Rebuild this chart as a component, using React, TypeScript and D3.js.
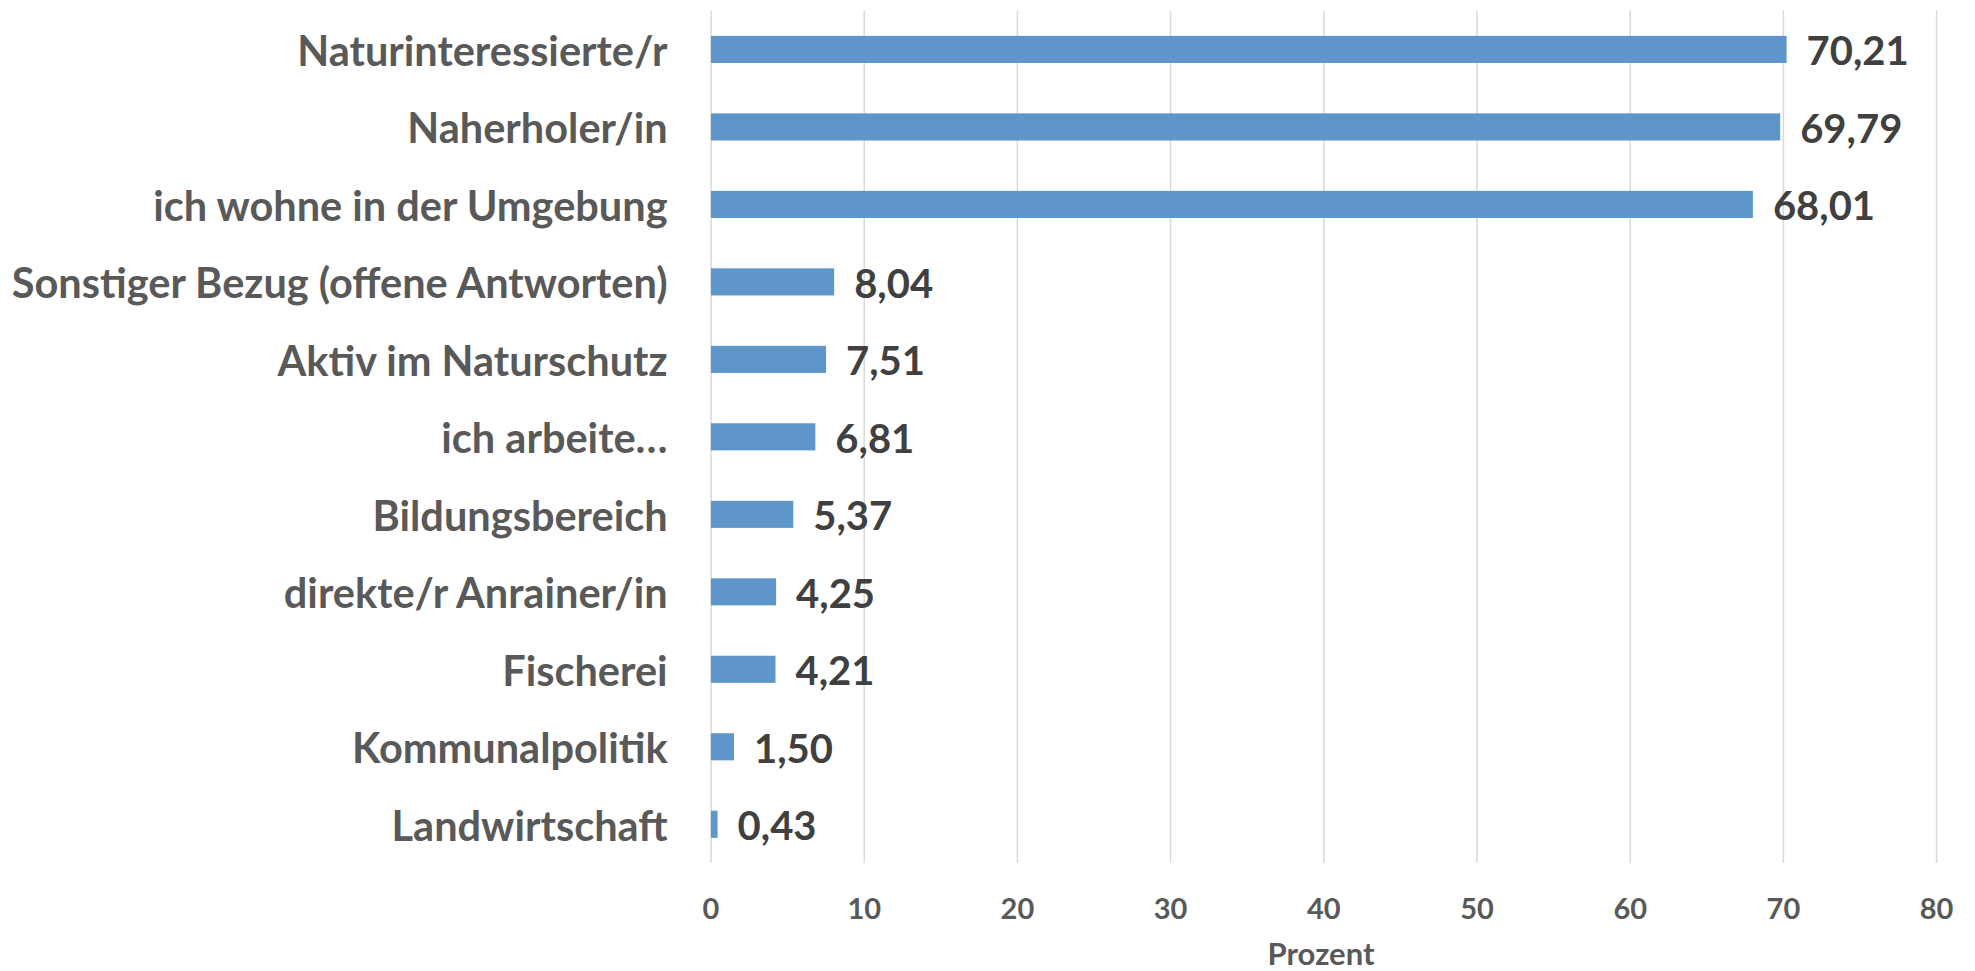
import React from "react";
import * as d3 from "d3";

const categories = [
  "Naturinteressierte/r",
  "Naherholer/in",
  "ich wohne in der Umgebung",
  "Sonstiger Bezug (offene Antworten)",
  "Aktiv im Naturschutz",
  "ich arbeite…",
  "Bildungsbereich",
  "direkte/r Anrainer/in",
  "Fischerei",
  "Kommunalpolitik",
  "Landwirtschaft",
];
const values = [70.21, 69.79, 68.01, 8.04, 7.51, 6.81, 5.37, 4.25, 4.21, 1.5, 0.43];
const xTicks = [0, 10, 20, 30, 40, 50, 60, 70, 80];
const axisTitle = "Prozent";

const W = 1975;
const H = 971;
const FONT = "Lato, 'Open Sans', sans-serif";

export default function App() {
  const x = d3.scaleLinear().domain([0, 80]).range([711, 1936.6]);
  const y = d3
    .scaleBand<string>()
    .domain(categories)
    .range([10.7, 863])
    .paddingInner(0.65)
    .paddingOuter(0.325);
  const fmt = (v: number) => d3.format(".2f")(v).replace(".", ",");

  return (
    <div style={{ position: "absolute", left: 0, top: 0 }}>
      <svg width={W} height={H} style={{ display: "block", background: "#fff" }}>
        <g>
          {xTicks.map((t) => (
            <line
              key={"g" + t}
              x1={x(t)}
              x2={x(t)}
              y1={10.7}
              y2={863}
              stroke="#d9d9d9"
              strokeWidth={1.5}
            />
          ))}
        </g>
        <g>
          {categories.map((c, i) => (
            <rect
              key={c}
              x={x(0)}
              y={y(c)!}
              width={x(values[i]) - x(0)}
              height={y.bandwidth()}
              fill="#5F96CA"
            />
          ))}
        </g>
        <g fontFamily={FONT} fontWeight={700}>
          {categories.map((c) => (
            <text
              key={"l" + c}
              x={667.6}
              y={y(c)! + y.bandwidth() / 2 + 16.5}
              textAnchor="end"
              fontSize={41.5}
              fill="#595959"
            >
              {c}
            </text>
          ))}
          {categories.map((c, i) => (
            <text
              key={"v" + c}
              x={x(values[i]) + 20}
              y={y(c)! + y.bandwidth() / 2 + 16}
              textAnchor="start"
              fontSize={40}
              fill="#404040"
            >
              {fmt(values[i])}
            </text>
          ))}
          {xTicks.map((t) => (
            <text
              key={"t" + t}
              x={x(t)}
              y={919}
              textAnchor="middle"
              fontSize={29}
              fill="#595959"
            >
              {t}
            </text>
          ))}
          <text x={1321} y={965} textAnchor="middle" fontSize={31} fill="#595959">
            {axisTitle}
          </text>
        </g>
      </svg>
    </div>
  );
}
